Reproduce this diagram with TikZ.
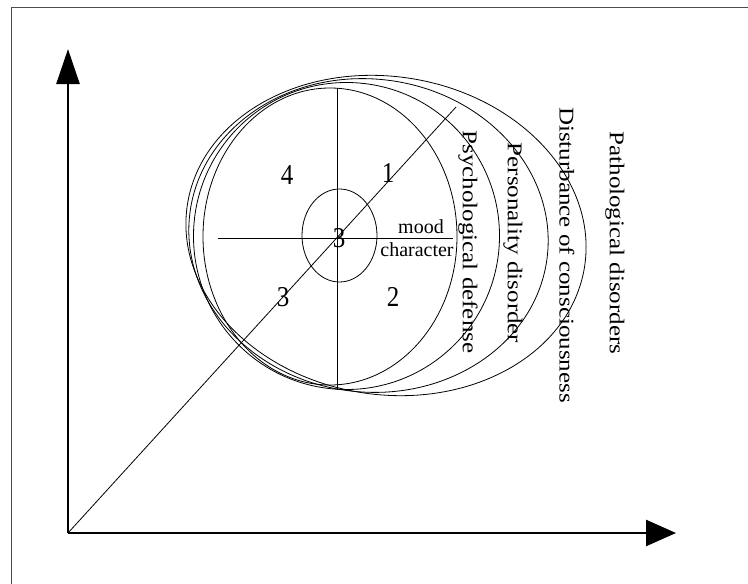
\documentclass[tikz,border=0pt]{standalone}
\usepackage{fontspec}
\setmainfont{Liberation Serif}
\usepackage{tikz}
\usetikzlibrary{arrows.meta}
\tikzset{
  axis/.style={line width=2.6pt},
  ring/.style={draw, line width=0.8pt},
  thin/.style={line width=0.8pt},
  num/.style={inner sep=0pt, font=\fontsize{25}{25}\selectfont},
  word/.style={inner sep=0pt, anchor=base, font=\fontsize{20}{20}\selectfont},
  vlabel/.style={inner sep=0pt, rotate=-90, font=\fontsize{21}{21}\selectfont}
}
\newcommand{\wide}[1]{\scalebox{1.19}[1]{#1}}
\newcommand{\tall}[1]{\scalebox{1}[1.15]{#1}}

\begin{document}
\begin{tikzpicture}[x=1pt, y=-1pt]
\useasboundingbox (0,0) rectangle (748,584);
% frame (top and left only)
\draw[line width=1pt, black!70] (748,7) -- (11,7) -- (11,584);

\coordinate (O) at (68,533);
\coordinate (ytip) at (68,49);
\coordinate (xtip) at (676,533);
\coordinate (C) at (337,238);
\coordinate (diag) at (456,107);

\draw[axis, -{Triangle[length=35pt, width=23pt]}] (O) -- (ytip);
\draw[axis, -{Triangle[length=30pt, width=26pt]}] (O) -- (xtip);
\draw[thin] (O) -- (diag);

% nested regions, slightly tilted
\draw[ring, rotate around={-9:(386,235.5)}] (386,235.5) ellipse [x radius=201, y radius=159];
\draw[ring, rotate around={-7:(368.5,235.5)}] (368.5,235.5) ellipse [x radius=180, y radius=156.5];
\draw[ring, rotate around={-4:(346.5,236)}] (346.5,236) ellipse [x radius=153, y radius=153.5];
\draw[ring] (330,236.5) ellipse [x radius=127, y radius=148.5];
\draw[ring] (339.5,235.5) ellipse [x radius=37.5, y radius=46.5];

\coordinate (vtop) at (337,88);
\coordinate (vbot) at (337,390);
\coordinate (hleft) at (218,238);
\coordinate (hright) at (453,238);
\draw[thin] (vtop) -- (vbot);
\draw[thin] (hleft) -- (hright);

\node[num] (q4) at (287,175) {\tall{4}};
\node[num] (q1) at (388,173) {\tall{1}};
\node[num] (q3) at (283,297) {\tall{3}};
\node[num] (q2) at (393,297) {\tall{2}};
\node[num] (mid) at (339,238) {\tall{3}};

\node[word] (mood) at (421,233) {mood};
\node[word] (char) at (417,256) {character};

\node[vlabel] (psy) at (468,242) {\wide{Psychological defense}};
\node[vlabel] (pers) at (513,243) {\wide{Personality disorder}};
\node[vlabel] (dist) at (567,255) {\wide{Disturbance of consciousness}};
\node[vlabel] (path) at (615,243) {\wide{Pathological disorders}};
\end{tikzpicture}
\end{document}
